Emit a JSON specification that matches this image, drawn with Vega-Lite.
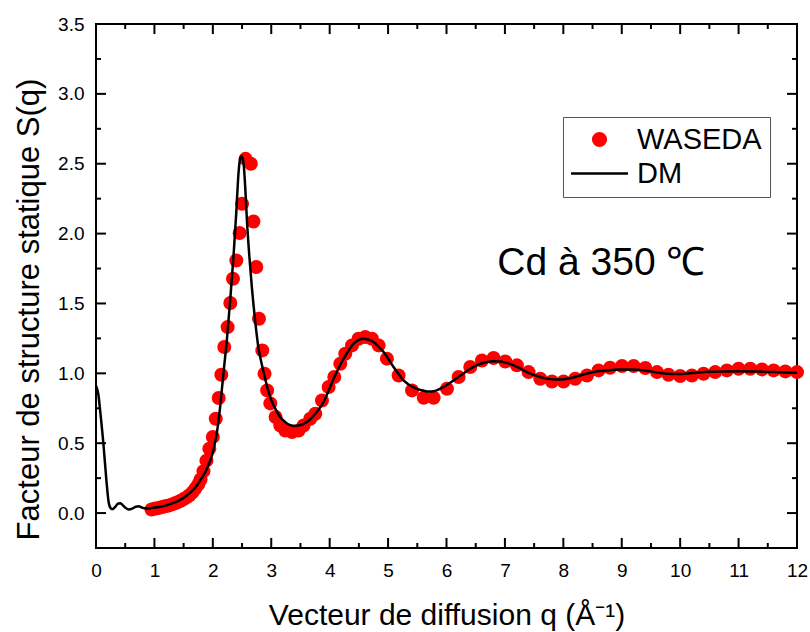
{
  "$schema": "https://vega.github.io/schema/vega-lite/v6.json",
  "width": 701,
  "height": 524,
  "autosize": {"type": "none"},
  "padding": {"left": 96, "top": 24, "right": 13, "bottom": 84},
  "background": "white",
  "config": {
    "view": {"stroke": "black", "strokeWidth": 2, "fill": null},
    "font": "Liberation Sans",
    "axis": {"labelFont": "Liberation Sans", "titleFont": "Liberation Sans", "labelColor": "black", "titleColor": "black", "domain": false, "ticks": false, "grid": false, "labelFlush": false, "labelOverlap": false}
  },
  "datasets": {
    "waseda": [
      {"q": 0.95, "S": 0.025}, {"q": 1.0, "S": 0.03}, {"q": 1.05, "S": 0.035}, {"q": 1.1, "S": 0.04}, {"q": 1.15, "S": 0.045},
      {"q": 1.2, "S": 0.05}, {"q": 1.25, "S": 0.055}, {"q": 1.3, "S": 0.062}, {"q": 1.35, "S": 0.07}, {"q": 1.4, "S": 0.078},
      {"q": 1.45, "S": 0.088}, {"q": 1.5, "S": 0.1}, {"q": 1.55, "S": 0.112}, {"q": 1.6, "S": 0.128}, {"q": 1.65, "S": 0.148},
      {"q": 1.7, "S": 0.175}, {"q": 1.75, "S": 0.205}, {"q": 1.79, "S": 0.24}, {"q": 1.84, "S": 0.3}, {"q": 1.89, "S": 0.375},
      {"q": 1.94, "S": 0.46}, {"q": 2.0, "S": 0.545}, {"q": 2.05, "S": 0.675}, {"q": 2.1, "S": 0.823}, {"q": 2.145, "S": 0.99},
      {"q": 2.196, "S": 1.188}, {"q": 2.253, "S": 1.331}, {"q": 2.299, "S": 1.503}, {"q": 2.345, "S": 1.677}, {"q": 2.402, "S": 1.808},
      {"q": 2.458, "S": 2.004}, {"q": 2.5, "S": 2.214}, {"q": 2.56, "S": 2.535}, {"q": 2.65, "S": 2.5}, {"q": 2.695, "S": 2.087},
      {"q": 2.744, "S": 1.761}, {"q": 2.79, "S": 1.391}, {"q": 2.847, "S": 1.164}, {"q": 2.885, "S": 0.997}, {"q": 2.93, "S": 0.878},
      {"q": 2.984, "S": 0.785}, {"q": 3.074, "S": 0.687}, {"q": 3.155, "S": 0.627}, {"q": 3.24, "S": 0.591}, {"q": 3.355, "S": 0.58},
      {"q": 3.468, "S": 0.591}, {"q": 3.554, "S": 0.627}, {"q": 3.668, "S": 0.675}, {"q": 3.754, "S": 0.711}, {"q": 3.868, "S": 0.806},
      {"q": 3.982, "S": 0.902}, {"q": 4.079, "S": 0.974}, {"q": 4.182, "S": 1.069}, {"q": 4.267, "S": 1.14}, {"q": 4.382, "S": 1.2},
      {"q": 4.495, "S": 1.248}, {"q": 4.61, "S": 1.26}, {"q": 4.724, "S": 1.248}, {"q": 4.838, "S": 1.2}, {"q": 4.98, "S": 1.105},
      {"q": 5.18, "S": 0.985}, {"q": 5.41, "S": 0.878}, {"q": 5.61, "S": 0.825}, {"q": 5.78, "S": 0.825}, {"q": 6.008, "S": 0.89},
      {"q": 6.207, "S": 0.974}, {"q": 6.407, "S": 1.045}, {"q": 6.607, "S": 1.092}, {"q": 6.806, "S": 1.11}, {"q": 7.006, "S": 1.085},
      {"q": 7.206, "S": 1.057}, {"q": 7.405, "S": 1.009}, {"q": 7.605, "S": 0.961}, {"q": 7.805, "S": 0.942}, {"q": 8.004, "S": 0.942},
      {"q": 8.204, "S": 0.961}, {"q": 8.405, "S": 0.985}, {"q": 8.603, "S": 1.021}, {"q": 8.8, "S": 1.04}, {"q": 9.004, "S": 1.052},
      {"q": 9.203, "S": 1.052}, {"q": 9.403, "S": 1.038}, {"q": 9.603, "S": 1.009}, {"q": 9.801, "S": 0.99}, {"q": 10.0, "S": 0.981},
      {"q": 10.2, "S": 0.985}, {"q": 10.4, "S": 0.997}, {"q": 10.6, "S": 1.009}, {"q": 10.8, "S": 1.021}, {"q": 11.0, "S": 1.033},
      {"q": 11.2, "S": 1.033}, {"q": 11.4, "S": 1.028}, {"q": 11.6, "S": 1.021}, {"q": 11.8, "S": 1.014}, {"q": 12.0, "S": 1.009}
    ],
    "dm": [
      {"q": 0.0, "S": 0.91}, {"q": 0.04, "S": 0.85}, {"q": 0.074, "S": 0.72}, {"q": 0.13, "S": 0.48}, {"q": 0.176, "S": 0.245},
      {"q": 0.216, "S": 0.079}, {"q": 0.25, "S": 0.035}, {"q": 0.28, "S": 0.028}, {"q": 0.33, "S": 0.045}, {"q": 0.38, "S": 0.068},
      {"q": 0.42, "S": 0.07}, {"q": 0.46, "S": 0.055}, {"q": 0.5, "S": 0.04}, {"q": 0.56, "S": 0.026}, {"q": 0.62, "S": 0.032},
      {"q": 0.68, "S": 0.045}, {"q": 0.73, "S": 0.048}, {"q": 0.78, "S": 0.04}, {"q": 0.85, "S": 0.033}, {"q": 0.93, "S": 0.035},
      {"q": 1.0, "S": 0.04}, {"q": 1.1, "S": 0.045}, {"q": 1.2, "S": 0.055}, {"q": 1.27, "S": 0.065}, {"q": 1.4, "S": 0.085},
      {"q": 1.557, "S": 0.125}, {"q": 1.65, "S": 0.16}, {"q": 1.729, "S": 0.198}, {"q": 1.8, "S": 0.245}, {"q": 1.871, "S": 0.293},
      {"q": 1.93, "S": 0.35}, {"q": 1.985, "S": 0.412}, {"q": 2.03, "S": 0.49}, {"q": 2.071, "S": 0.58}, {"q": 2.1, "S": 0.67},
      {"q": 2.128, "S": 0.77}, {"q": 2.156, "S": 0.89}, {"q": 2.184, "S": 1.009}, {"q": 2.242, "S": 1.248}, {"q": 2.299, "S": 1.534},
      {"q": 2.355, "S": 1.844}, {"q": 2.402, "S": 2.155}, {"q": 2.441, "S": 2.441}, {"q": 2.47, "S": 2.54}, {"q": 2.49, "S": 2.555},
      {"q": 2.51, "S": 2.54}, {"q": 2.527, "S": 2.5}, {"q": 2.556, "S": 2.32}, {"q": 2.585, "S": 2.083}, {"q": 2.624, "S": 1.844},
      {"q": 2.67, "S": 1.606}, {"q": 2.727, "S": 1.367}, {"q": 2.783, "S": 1.176}, {"q": 2.83, "S": 1.08}, {"q": 2.869, "S": 1.009},
      {"q": 2.92, "S": 0.92}, {"q": 2.955, "S": 0.866}, {"q": 3.0, "S": 0.81}, {"q": 3.069, "S": 0.747}, {"q": 3.15, "S": 0.69},
      {"q": 3.24, "S": 0.651}, {"q": 3.33, "S": 0.628}, {"q": 3.411, "S": 0.623}, {"q": 3.48, "S": 0.628}, {"q": 3.554, "S": 0.639},
      {"q": 3.64, "S": 0.66}, {"q": 3.725, "S": 0.697}, {"q": 3.81, "S": 0.74}, {"q": 3.896, "S": 0.795}, {"q": 3.98, "S": 0.875},
      {"q": 4.067, "S": 0.961}, {"q": 4.15, "S": 1.035}, {"q": 4.238, "S": 1.105}, {"q": 4.32, "S": 1.16}, {"q": 4.41, "S": 1.212},
      {"q": 4.5, "S": 1.24}, {"q": 4.58, "S": 1.248}, {"q": 4.67, "S": 1.24}, {"q": 4.752, "S": 1.224}, {"q": 4.84, "S": 1.19},
      {"q": 4.923, "S": 1.152}, {"q": 5.01, "S": 1.1}, {"q": 5.094, "S": 1.045}, {"q": 5.18, "S": 0.995}, {"q": 5.265, "S": 0.949},
      {"q": 5.35, "S": 0.92}, {"q": 5.437, "S": 0.9}, {"q": 5.52, "S": 0.885}, {"q": 5.608, "S": 0.876}, {"q": 5.69, "S": 0.87},
      {"q": 5.779, "S": 0.872}, {"q": 5.894, "S": 0.89}, {"q": 6.0, "S": 0.915}, {"q": 6.12, "S": 0.949}, {"q": 6.26, "S": 0.99},
      {"q": 6.407, "S": 1.033}, {"q": 6.55, "S": 1.063}, {"q": 6.69, "S": 1.081}, {"q": 6.81, "S": 1.087}, {"q": 6.92, "S": 1.085},
      {"q": 7.03, "S": 1.075}, {"q": 7.148, "S": 1.057}, {"q": 7.26, "S": 1.035}, {"q": 7.377, "S": 1.009}, {"q": 7.49, "S": 0.99},
      {"q": 7.605, "S": 0.974}, {"q": 7.72, "S": 0.962}, {"q": 7.833, "S": 0.956}, {"q": 7.95, "S": 0.955}, {"q": 8.062, "S": 0.961},
      {"q": 8.18, "S": 0.972}, {"q": 8.29, "S": 0.985}, {"q": 8.4, "S": 0.997}, {"q": 8.518, "S": 1.009}, {"q": 8.63, "S": 1.016},
      {"q": 8.747, "S": 1.021}, {"q": 8.86, "S": 1.026}, {"q": 8.975, "S": 1.028}, {"q": 9.2, "S": 1.028}, {"q": 9.35, "S": 1.022},
      {"q": 9.49, "S": 1.014}, {"q": 9.63, "S": 1.005}, {"q": 9.774, "S": 0.997}, {"q": 9.9, "S": 0.995}, {"q": 10.0, "S": 0.996},
      {"q": 10.2, "S": 1.002}, {"q": 10.35, "S": 1.008}, {"q": 10.6, "S": 1.012}, {"q": 10.8, "S": 1.014}, {"q": 11.0, "S": 1.015},
      {"q": 11.2, "S": 1.014}, {"q": 11.4, "S": 1.012}, {"q": 11.6, "S": 1.009}, {"q": 11.8, "S": 1.006}, {"q": 12.0, "S": 1.004}
    ],
    "note": [{"q": 6.87, "S": 1.79, "label": "Cd à 350 ℃"}],
    "xmajor": [{"v": 1}, {"v": 2}, {"v": 3}, {"v": 4}, {"v": 5}, {"v": 6}, {"v": 7}, {"v": 8}, {"v": 9}, {"v": 10}, {"v": 11}],
    "xminor": [{"v": 0.5}, {"v": 1.5}, {"v": 2.5}, {"v": 3.5}, {"v": 4.5}, {"v": 5.5}, {"v": 6.5}, {"v": 7.5}, {"v": 8.5}, {"v": 9.5}, {"v": 10.5}, {"v": 11.5}],
    "ymajor": [{"v": 0}, {"v": 0.5}, {"v": 1}, {"v": 1.5}, {"v": 2}, {"v": 2.5}, {"v": 3}],
    "yminor": [{"v": 0.25}, {"v": 0.75}, {"v": 1.25}, {"v": 1.75}, {"v": 2.25}, {"v": 2.75}, {"v": 3.25}]
  },
  "resolve": {"axis": {"x": "independent", "y": "independent"}},
  "layer": [
    {
      "data": {"name": "xmajor"},
      "mark": {"type": "rule", "strokeWidth": 2, "color": "black"},
      "encoding": {"x": {"field": "v", "type": "quantitative", "axis": null}, "y": {"datum": -0.25, "type": "quantitative", "axis": null}, "y2": {"datum": -0.178}}
    },
    {
      "data": {"name": "xmajor"},
      "mark": {"type": "rule", "strokeWidth": 2, "color": "black"},
      "encoding": {"x": {"field": "v", "type": "quantitative", "axis": null}, "y": {"datum": 3.5, "type": "quantitative", "axis": null}, "y2": {"datum": 3.428}}
    },
    {
      "data": {"name": "xminor"},
      "mark": {"type": "rule", "strokeWidth": 2, "color": "black"},
      "encoding": {"x": {"field": "v", "type": "quantitative", "axis": null}, "y": {"datum": -0.25, "type": "quantitative", "axis": null}, "y2": {"datum": -0.214}}
    },
    {
      "data": {"name": "xminor"},
      "mark": {"type": "rule", "strokeWidth": 2, "color": "black"},
      "encoding": {"x": {"field": "v", "type": "quantitative", "axis": null}, "y": {"datum": 3.5, "type": "quantitative", "axis": null}, "y2": {"datum": 3.464}}
    },
    {
      "data": {"name": "ymajor"},
      "mark": {"type": "rule", "strokeWidth": 2, "color": "black"},
      "encoding": {"y": {"field": "v", "type": "quantitative", "axis": null}, "x": {"datum": 0, "type": "quantitative", "axis": null}, "x2": {"datum": 0.171}}
    },
    {
      "data": {"name": "ymajor"},
      "mark": {"type": "rule", "strokeWidth": 2, "color": "black"},
      "encoding": {"y": {"field": "v", "type": "quantitative", "axis": null}, "x": {"datum": 12, "type": "quantitative", "axis": null}, "x2": {"datum": 11.829}}
    },
    {
      "data": {"name": "yminor"},
      "mark": {"type": "rule", "strokeWidth": 2, "color": "black"},
      "encoding": {"y": {"field": "v", "type": "quantitative", "axis": null}, "x": {"datum": 0, "type": "quantitative", "axis": null}, "x2": {"datum": 0.086}}
    },
    {
      "data": {"name": "yminor"},
      "mark": {"type": "rule", "strokeWidth": 2, "color": "black"},
      "encoding": {"y": {"field": "v", "type": "quantitative", "axis": null}, "x": {"datum": 12, "type": "quantitative", "axis": null}, "x2": {"datum": 11.914}}
    },
    {
      "data": {"name": "waseda"},
      "transform": [{"calculate": "'WASEDA'", "as": "series"}],
      "mark": {"type": "point", "filled": true, "size": 196, "opacity": 1},
      "encoding": {
        "x": {"field": "q", "type": "quantitative", "scale": {"domain": [0, 12], "nice": false, "zero": false},
          "axis": {"orient": "bottom", "title": "Vecteur de diffusion q (Å⁻¹)", "titleFontSize": 30, "titleFontWeight": "normal", "titlePadding": 20,
            "values": [0,1,2,3,4,5,6,7,8,9,10,11,12], "format": "d", "labelFontSize": 19, "labelPadding": 13}},
        "y": {"field": "S", "type": "quantitative", "scale": {"domain": [-0.25, 3.5], "nice": false, "zero": false},
          "axis": {"orient": "left", "title": "Facteur de structure statique S(q)", "titleFontSize": 31, "titleFontWeight": "normal", "titlePadding": 12, "titleY": 285,
            "values": [0,0.5,1,1.5,2,2.5,3,3.5], "format": ".1f", "labelFontSize": 19, "labelPadding": 12}},
        "color": {"field": "series", "type": "nominal",
          "scale": {"domain": ["WASEDA", "DM"], "range": ["#ff0000", "#000000"]},
          "legend": {"orient": "none", "legendX": 467, "legendY": 93, "title": null, "labelFontSize": 29, "labelFont": "Liberation Sans", "labelColor": "black",
            "symbolSize": 160, "labelOffset": 37, "padding": 8, "strokeColor": "#555", "rowPadding": 4, "labelLimit": 0,
            "encode": {"symbols": {"update": {
              "x": {"value": 28.5},
              "shape": {"signal": "datum.value === 'DM' ? 'stroke' : 'circle'"},
              "size": {"signal": "datum.value === 'DM' ? 3249 : 160"},
              "fill": {"signal": "datum.value === 'DM' ? 'transparent' : '#ff0000'"},
              "stroke": {"signal": "datum.value === 'DM' ? '#000000' : 'transparent'"},
              "strokeWidth": {"value": 2.5},
              "opacity": {"value": 1}
            }}}}}
      }
    },
    {
      "data": {"name": "dm"},
      "transform": [{"calculate": "'DM'", "as": "series"}],
      "mark": {"type": "line", "strokeWidth": 2.5, "interpolate": "monotone"},
      "encoding": {
        "x": {"field": "q", "type": "quantitative", "axis": null},
        "y": {"field": "S", "type": "quantitative", "axis": null},
        "color": {"field": "series", "type": "nominal",
          "legend": {"orient": "none", "legendX": 467, "legendY": 93, "title": null, "labelFontSize": 29, "labelFont": "Liberation Sans", "labelColor": "black",
            "symbolSize": 160, "labelOffset": 37, "padding": 8, "strokeColor": "#555", "rowPadding": 4, "labelLimit": 0,
            "encode": {"symbols": {"update": {
              "x": {"value": 28.5},
              "shape": {"signal": "datum.value === 'DM' ? 'stroke' : 'circle'"},
              "size": {"signal": "datum.value === 'DM' ? 3249 : 160"},
              "fill": {"signal": "datum.value === 'DM' ? 'transparent' : '#ff0000'"},
              "stroke": {"signal": "datum.value === 'DM' ? '#000000' : 'transparent'"},
              "strokeWidth": {"value": 2.5},
              "opacity": {"value": 1}
            }}}}}
      }
    },
    {
      "data": {"name": "note"},
      "mark": {"type": "text", "align": "left", "baseline": "middle", "fontSize": 39, "font": "Liberation Sans", "color": "black"},
      "encoding": {
        "x": {"field": "q", "type": "quantitative", "axis": null},
        "y": {"field": "S", "type": "quantitative", "axis": null},
        "text": {"field": "label"}
      }
    }
  ]
}
